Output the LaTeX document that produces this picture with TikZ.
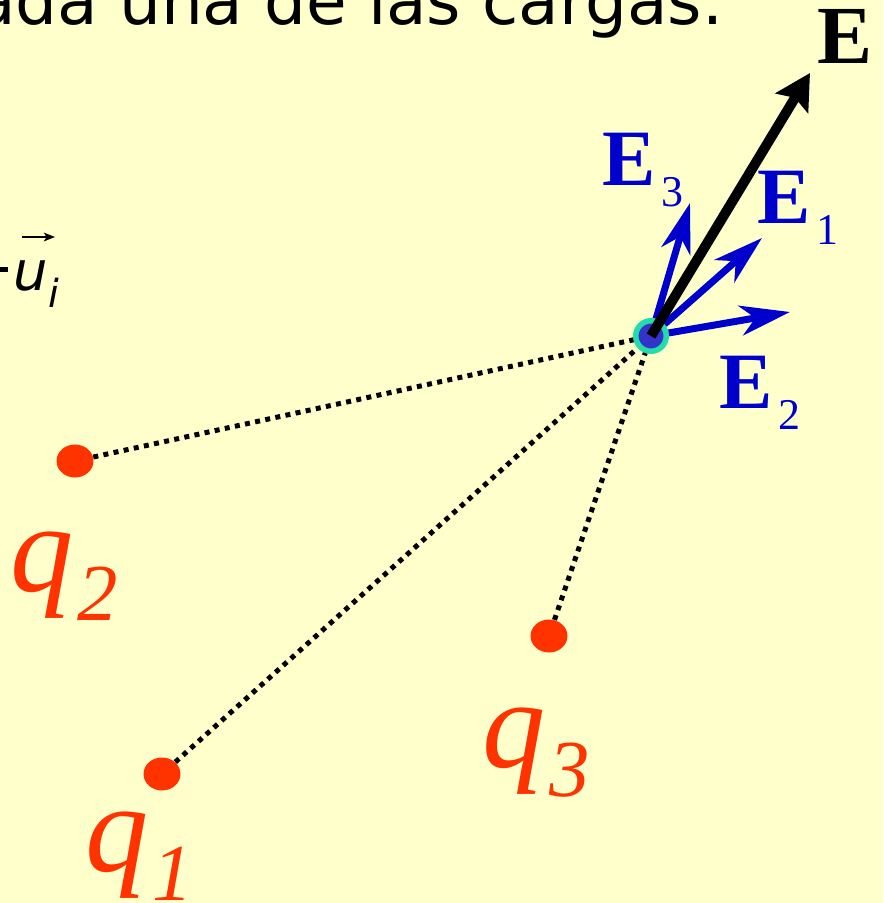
\documentclass[tikz,border=0pt]{standalone}
\usepackage{fontspec}
\setmainfont{Liberation Serif}
\newfontfamily\slidefont{DejaVu Sans}
\usepackage{xcolor}
\usetikzlibrary{arrows.meta, positioning, shapes.geometric}

\definecolor{slidebg}{HTML}{FFFFCC}
\definecolor{chargered}{HTML}{FF3300}
\definecolor{fieldblue}{HTML}{0000CC}
\definecolor{pointblue}{HTML}{3333CC}
\definecolor{pointring}{HTML}{22DDAA}

\newcommand{\qlab}[1]{{\fontsize{72}{72}\selectfont\itshape q}\kern2pt\raisebox{-17pt}{\fontsize{46}{46}\selectfont\itshape #1}}
\newcommand{\Elab}[1]{\textbf{E}\kern3.5pt\raisebox{-12pt}{\fontsize{25}{25}\selectfont #1}}

\begin{document}
\begin{tikzpicture}[
  x=0.02cm, y=-0.02cm,
  charge/.style={ellipse, fill=chargered, minimum width=0.74cm, minimum height=0.66cm, inner sep=0pt},
  fieldpt/.style={circle, fill=pointblue, draw=pointring, line width=0.11cm, minimum size=0.61cm, inner sep=0pt},
  qname/.style={anchor=base west, inner sep=0pt, text=chargered},
  ename/.style={anchor=base west, inner sep=0pt, text=fieldblue, font=\fontsize{45.5}{46}\selectfont},
  link/.style={line width=0.1cm, dash pattern=on 0.1cm off 0.107cm},
  partial/.style={line width=0.14cm, fieldblue, -{Stealth[length=1cm, width=0.6cm, inset=0.3cm]}},
  total/.style={line width=0.2cm, -{Stealth[length=0.7cm, width=0.75cm, inset=0.12cm]}}
]
  \useasboundingbox (0,0) rectangle (883,903);
  \fill[slidebg] (0,0) rectangle (883,903);
  \clip (0,0) rectangle (883,903);

  % Slide text (cut by the frame)
  \node[anchor=base west, inner sep=0pt, font=\slidefont\fontsize{37.6}{38}\selectfont] (title) at (-25,24) {ada una de las cargas.};
  \node[anchor=base west, inner sep=0pt, font=\slidefont\fontsize{31}{31}\selectfont\itshape] (ui) at (-20,290)
    {\rule[10.2pt]{16pt}{2.85pt}\kern3pt u\raisebox{-10.2pt}{\fontsize{22}{22}\selectfont i}};
  \draw[line width=1.5pt, -{Stealth[length=0.22cm, width=0.17cm, inset=0.05cm]}] (22,237) -- (55,237);

  % Charges and field point
  \node[charge] (q1) at (162,774) {};
  \node[charge] (q2) at (75,461) {};
  \node[charge] (q3) at (549,636) {};
  \node[fieldpt] (P) at (651,336) {};

  \node[qname] (q1lab) at (85,871) {\qlab{1}};
  \node[qname] (q2lab) at (10,591) {\qlab{2}};
  \node[qname] (q3lab) at (482,767) {\qlab{3}};

  % Distances
  \draw[link] (q1) -- (P);
  \draw[link] (q2) -- (P);
  \draw[link] (q3) -- (P);

  % Partial fields
  \coordinate (tipE1) at (762,238);
  \coordinate (tipE2) at (790,312);
  \coordinate (tipE3) at (690,203);
  \draw[partial] (P) -- (tipE3);
  \draw[partial] (P) -- (tipE1);
  \draw[partial] (P) -- (tipE2);
  \node[ename] (E1lab) at (757,223) {\Elab{1}};
  \node[ename] (E2lab) at (719,408) {\Elab{2}};
  \node[ename] (E3lab) at (602,185) {\Elab{3}};

  % Resulting field
  \coordinate (tipE) at (810,73);
  \draw[total] (P.center) -- (tipE);
  \node[anchor=base west, inner sep=0pt, font=\fontsize{47}{47}\selectfont\bfseries] (Elab) at (817,63) {E};
\end{tikzpicture}
\end{document}
